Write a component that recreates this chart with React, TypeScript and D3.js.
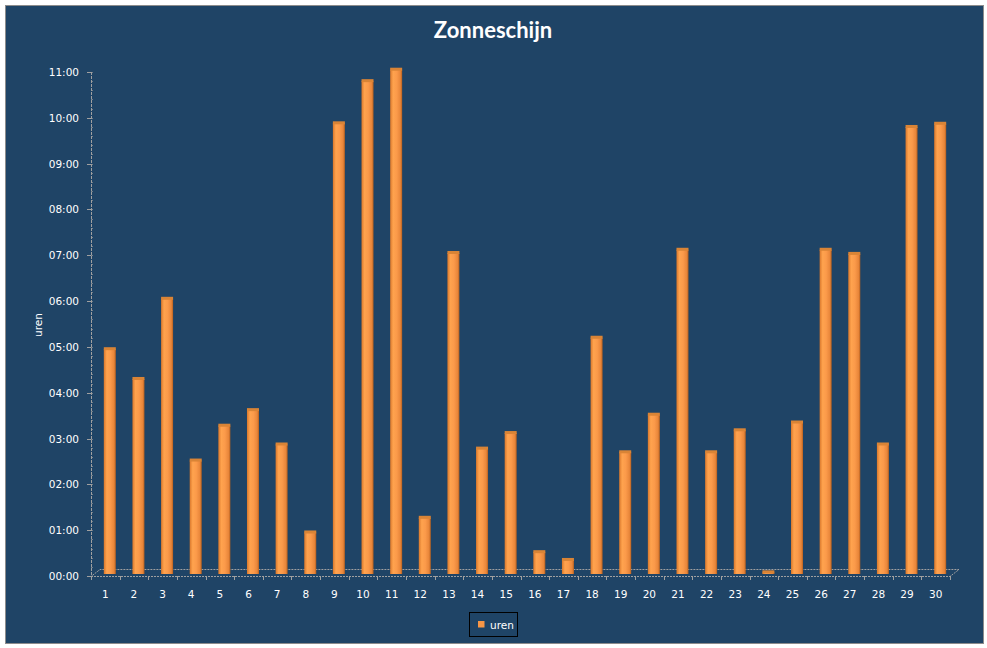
import { useEffect, useRef } from "react";
import * as d3 from "d3";

// Zonneschijn per dag (uren), 3D-kolomgrafiek op donkerblauwe achtergrond.
const days = [
  "1", "2", "3", "4", "5", "6", "7", "8", "9", "10",
  "11", "12", "13", "14", "15", "16", "17", "18", "19", "20",
  "21", "22", "23", "24", "25", "26", "27", "28", "29", "30",
];
const sunHours = [
  4.95, 4.3, 6.05, 2.52, 3.28, 3.62, 2.87, 0.95, 9.88, 10.8,
  11.05, 1.27, 7.05, 2.78, 3.12, 0.52, 0.35, 5.2, 2.7, 3.52,
  7.12, 2.7, 3.18, 0.08, 3.35, 7.12, 7.03, 2.87, 9.8, 9.87,
];
const hourTicks = [
  "00:00", "01:00", "02:00", "03:00", "04:00", "05:00",
  "06:00", "07:00", "08:00", "09:00", "10:00", "11:00",
];
const seriesName = "uren";

const W = 987;
const H = 648;
const BG = "#1f4466";
const ORANGE = "#f79646";
const AXIS = "#a0a0a0";
const FONT = "'DejaVu Sans', Verdana, sans-serif";

export default function App() {
  const svgRef = useRef<SVGSVGElement | null>(null);

  useEffect(() => {
    const svg = d3.select(svgRef.current);
    svg.selectAll("*").remove();
    if (!svgRef.current) return;

    const left = 91;
    const right = 950;
    const depth = { dx: 9, dy: -6.5 };

    const x = d3.scaleBand<string>().domain(days).range([left, right]);
    const y = d3.scaleLinear().domain([0, 11]).range([576, 72]);
    const y0 = y(0);

    // gradient for the cylinder bars
    const defs = svg.append("defs");
    const grad = defs
      .append("linearGradient")
      .attr("id", "barGrad")
      .attr("x1", "0")
      .attr("x2", "1")
      .attr("y1", "0")
      .attr("y2", "0");
    grad.append("stop").attr("offset", "0%").attr("stop-color", "#d9782c");
    grad.append("stop").attr("offset", "25%").attr("stop-color", "#ffa34e");
    grad.append("stop").attr("offset", "55%").attr("stop-color", "#fb9a4a");
    grad.append("stop").attr("offset", "85%").attr("stop-color", "#e8863a");
    grad.append("stop").attr("offset", "100%").attr("stop-color", "#b6601f");

    // chart area
    svg
      .append("rect")
      .attr("x", 5.5)
      .attr("y", 5.5)
      .attr("width", 978)
      .attr("height", 638)
      .attr("fill", BG)
      .attr("stroke", "#8c8c8c")
      .attr("stroke-width", 1);

    svg
      .append("text")
      .attr("x", 493)
      .attr("y", 38)
      .attr("text-anchor", "middle")
      .attr("font-family", "Lato, 'Open Sans', sans-serif")
      .attr("font-weight", "bold")
      .attr("font-size", 22)
      .attr("fill", "#ffffff")
      .text("Zonneschijn");

    // floor
    svg
      .append("path")
      .attr(
        "d",
        `M${left},${y0 + 0.5}L${right},${y0 + 0.5}L${right + depth.dx},${y0 + depth.dy}L${left + depth.dx},${y0 + depth.dy}Z`,
      )
      .attr("fill", "none")
      .attr("stroke", AXIS)
      .attr("stroke-width", 1)
      .attr("stroke-dasharray", "2,1");

    // y axis
    const ya = svg.append("g");
    ya.append("line")
      .attr("x1", left + 0.5)
      .attr("x2", left + 0.5)
      .attr("y1", y(11))
      .attr("y2", y0)
      .attr("stroke", AXIS)
      .attr("stroke-dasharray", "3,1");
    const minor = d3.range(0, 11.01, 0.2);
    ya.selectAll("line.minor")
      .data(minor)
      .join("line")
      .attr("class", "minor")
      .attr("x1", left)
      .attr("x2", left + 2)
      .attr("y1", (d) => Math.round(y(d)) + 0.5)
      .attr("y2", (d) => Math.round(y(d)) + 0.5)
      .attr("stroke", AXIS)
      .attr("opacity", 0.6);
    ya.selectAll("line.major")
      .data(hourTicks)
      .join("line")
      .attr("class", "major")
      .attr("x1", left - 4)
      .attr("x2", left)
      .attr("y1", (_, i) => Math.round(y(i)) + 0.5)
      .attr("y2", (_, i) => Math.round(y(i)) + 0.5)
      .attr("stroke", AXIS);
    ya.selectAll("text")
      .data(hourTicks)
      .join("text")
      .attr("x", 79)
      .attr("y", (_, i) => y(i) + 4)
      .attr("text-anchor", "end")
      .attr("font-family", FONT)
      .attr("font-size", 10.5)
      .attr("fill", "#ffffff")
      .text((d) => d);

    svg
      .append("text")
      .attr("transform", `translate(42,325) rotate(-90)`)
      .attr("text-anchor", "middle")
      .attr("font-family", FONT)
      .attr("font-size", 10.5)
      .attr("fill", "#ffffff")
      .text(seriesName);

    // x axis ticks and labels
    const xa = svg.append("g");
    const bounds = [...days.map((d) => x(d) ?? 0), right];
    xa.selectAll("line")
      .data(bounds)
      .join("line")
      .attr("x1", (d) => Math.round(d) + 0.5)
      .attr("x2", (d) => Math.round(d) + 0.5)
      .attr("y1", y0)
      .attr("y2", y0 + 4)
      .attr("stroke", AXIS);
    xa.selectAll("text")
      .data(days)
      .join("text")
      .attr("x", (d) => (x(d) ?? 0) + x.bandwidth() / 2)
      .attr("y", 598)
      .attr("text-anchor", "middle")
      .attr("font-family", FONT)
      .attr("font-size", 10.5)
      .attr("fill", "#ffffff")
      .text((d) => d);

    // bars
    const barW = 12;
    const bars = svg.append("g");
    days.forEach((d, i) => {
      const v = sunHours[i];
      const cx = (x(d) ?? 0) + x.bandwidth() / 2 + depth.dx / 2;
      const top = y(v);
      const bottom = y0 - 2;
      bars
        .append("rect")
        .attr("x", cx - barW / 2)
        .attr("y", top)
        .attr("width", barW)
        .attr("height", Math.max(1, bottom - top))
        .attr("fill", "url(#barGrad)");
      bars
        .append("rect")
        .attr("x", cx - barW / 2)
        .attr("y", top - 2)
        .attr("width", barW)
        .attr("height", 3)
        .attr("fill", "#d98436");
    });

    // legend
    const lg = svg.append("g");
    lg.append("rect")
      .attr("x", 469.5)
      .attr("y", 612.5)
      .attr("width", 48)
      .attr("height", 24)
      .attr("fill", "none")
      .attr("stroke", "#000000");
    lg.append("rect")
      .attr("x", 478)
      .attr("y", 621)
      .attr("width", 6.5)
      .attr("height", 6.5)
      .attr("fill", ORANGE);
    lg.append("text")
      .attr("x", 490)
      .attr("y", 629)
      .attr("font-family", FONT)
      .attr("font-size", 10.5)
      .attr("fill", "#ffffff")
      .text(seriesName);
  }, []);

  return (
    <svg
      ref={svgRef}
      width={W}
      height={H}
      style={{ position: "absolute", left: 0, top: 0, background: "#ffffff" }}
    />
  );
}
